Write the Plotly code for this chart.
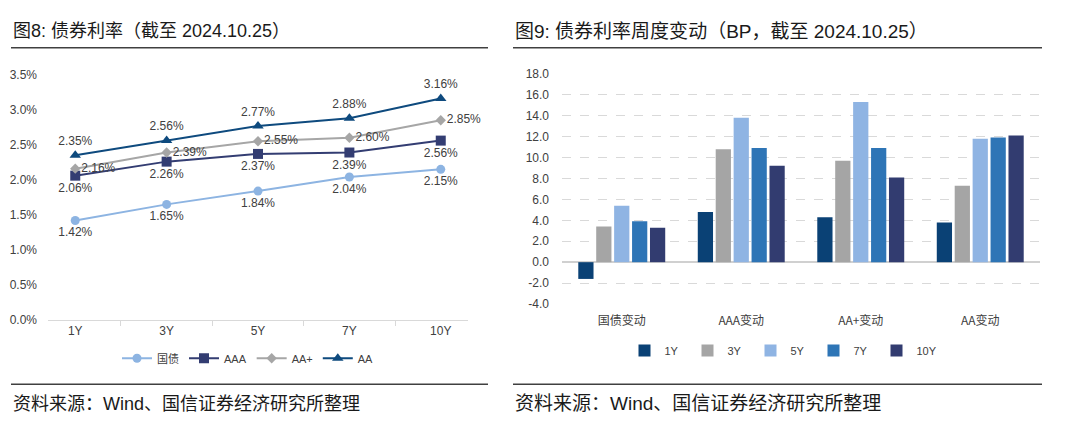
import plotly.graph_objects as go

# ---- data: left chart (bond yields, %) ----
tenors = ["1Y", "3Y", "5Y", "7Y", "10Y"]
gov = [1.42, 1.65, 1.84, 2.04, 2.15]
aaa = [2.06, 2.26, 2.37, 2.39, 2.56]
aa_plus = [2.16, 2.39, 2.55, 2.60, 2.85]
aa = [2.35, 2.56, 2.77, 2.88, 3.16]
yield_ticks = [0, 0.5, 1.0, 1.5, 2.0, 2.5, 3.0, 3.5]

# ---- data: right chart (weekly change, BP) ----
groups = ["国债变动", "AAA变动", "AA+变动", "AA变动"]
chg_1y = [-1.6, 4.8, 4.3, 3.8]
chg_3y = [3.4, 10.8, 9.7, 7.3]
chg_5y = [5.4, 13.8, 15.3, 11.8]
chg_7y = [3.9, 10.9, 10.9, 11.9]
chg_10y = [3.3, 9.2, 8.1, 12.1]
bar_series = ["1Y", "3Y", "5Y", "7Y", "10Y"]
chg_ticks = [-4, -2, 0, 2, 4, 6, 8, 10, 12, 14, 16, 18]

FONT = "Liberation Sans, Arial, Noto Sans CJK SC, sans-serif"
CJK = "Noto Sans CJK SC, sans-serif"
TXT = "#404040"

fig = go.Figure()

line_specs = [
    ("国债", gov, "#8db4e2", "circle", 9, "bottom center"),
    ("AAA", aaa, "#333d72", "square", 10, "bottom center"),
    ("AA+", aa_plus, "#a6a6a6", "diamond", 8, "middle right"),
    ("AA", aa, "#0e4a7e", "triangle-up", 10, "top center"),
]
for name, vals, col, sym, sz, tpos in line_specs:
    fig.add_trace(go.Scatter(
        x=tenors, y=vals, name=name, mode="lines+markers+text",
        line=dict(color=col, width=2),
        marker=dict(color=col, symbol=sym, size=sz),
        text=[f"{v:.2f}%" for v in vals], textposition=tpos,
        textfont=dict(family=FONT, size=12, color=TXT),
        xaxis="x", yaxis="y", legend="legend", cliponaxis=False,
    ))

bar_colors = ["#0a4175", "#a5a5a5", "#8fb4e3", "#2e75b6", "#323c70"]
for name, vals, col in zip(bar_series, [chg_1y, chg_3y, chg_5y, chg_7y, chg_10y], bar_colors):
    fig.add_trace(go.Bar(
        x=groups, y=vals, name=name, marker=dict(color=col, line=dict(width=0)),
        xaxis="x2", yaxis="y2", legend="legend2",
    ))

fig.update_layout(
    width=1080, height=432,
    margin=dict(l=0, r=0, t=0, b=0),
    paper_bgcolor="white", plot_bgcolor="white",
    font=dict(family=FONT, size=12, color=TXT),
    showlegend=True,
    barmode="group", bargap=0.25, bargroupgap=0.15,
    xaxis=dict(
        domain=[48 / 1080, 468 / 1080], anchor="y",
        type="category", showline=True, linecolor="#d9d9d9", linewidth=1,
        ticks="outside", tickson="boundaries", ticklen=5, tickcolor="#d9d9d9",
        showgrid=False, tickfont=dict(family=FONT, size=12, color=TXT),
    ),
    yaxis=dict(
        domain=[1 - 323.5 / 432, 1 - 70 / 432], anchor="x",
        range=[0, 3.5], tickvals=yield_ticks,
        ticktext=[f"{v:.1f}%" for v in yield_ticks],
        showgrid=False, showline=False, zeroline=False,
        ticklabelstandoff=10, tickfont=dict(family=FONT, size=12, color=TXT),
    ),
    xaxis2=dict(
        domain=[562 / 1080, 1040 / 1080], anchor="y2",
        type="category", showline=False, showgrid=False, ticks="",
        ticklabelstandoff=8,
        tickfont=dict(family=CJK, size=12, color=TXT),
    ),
    yaxis2=dict(
        domain=[1 - 307 / 432, 1 - 69 / 432], anchor="x2",
        range=[-4, 18], tickvals=chg_ticks,
        ticktext=[f"{v:.1f}" for v in chg_ticks],
        showgrid=True, gridcolor="#d9d9d9", griddash="dash", gridwidth=1,
        zeroline=True, zerolinecolor="#d0d0d0", zerolinewidth=1.5,
        showline=False, ticklabelstandoff=12,
        tickfont=dict(family=FONT, size=12, color=TXT),
    ),
    legend=dict(
        orientation="h", x=248 / 1080, xanchor="center", y=1 - 363 / 432, yanchor="middle",
        font=dict(family=FONT, size=11, color=TXT), bgcolor="rgba(0,0,0,0)",
        itemwidth=30, tracegroupgap=0,
    ),
    legend2=dict(
        orientation="h", x=782 / 1080, xanchor="center", y=1 - 355 / 432, yanchor="middle",
        font=dict(family=FONT, size=11, color=TXT), bgcolor="rgba(0,0,0,0)",
        itemwidth=30, entrywidth=18,
    ),
)

# titles, rules and source notes
annots = [
    dict(text="图8: 债券利率（截至 2024.10.25）", x=11 / 1080, y=1 - 25 / 432, size=18),
    dict(text="图9: 债券利率周度变动（BP，截至 2024.10.25）", x=513 / 1080, y=1 - 25 / 432, size=19),
    dict(text="资料来源：Wind、国信证券经济研究所整理", x=11 / 1080, y=1 - 410 / 432, size=18),
    dict(text="资料来源：Wind、国信证券经济研究所整理", x=513 / 1080, y=1 - 410 / 432, size=19),
]
for a in annots:
    fig.add_annotation(
        text=a["text"], x=a["x"], y=a["y"], xref="paper", yref="paper",
        xanchor="left", yanchor="middle", showarrow=False,
        font=dict(family=FONT, size=a["size"], color="#1a1a1a"),
    )

for x0, x1 in [(11, 488), (513, 1042)]:
    for yy in [42, 390]:
        fig.add_shape(type="line", xref="paper", yref="paper",
                      x0=x0 / 1080, x1=x1 / 1080, y0=1 - yy / 432, y1=1 - yy / 432,
                      line=dict(color="#404040", width=1.5))

page_fix = (
    "var gd=document.getElementById('{plot_id}');"
    "document.documentElement.style.cssText='margin:0;padding:0;overflow:hidden;height:432px;';"
    "document.body.style.cssText='margin:0;padding:0;overflow:hidden;height:432px;';"
    "gd.style.position='fixed';gd.style.top='0px';gd.style.left='0px';"
)

fig.write_html(
    "out.html",
    config={"displayModeBar": False},
    post_script=page_fix,
)
